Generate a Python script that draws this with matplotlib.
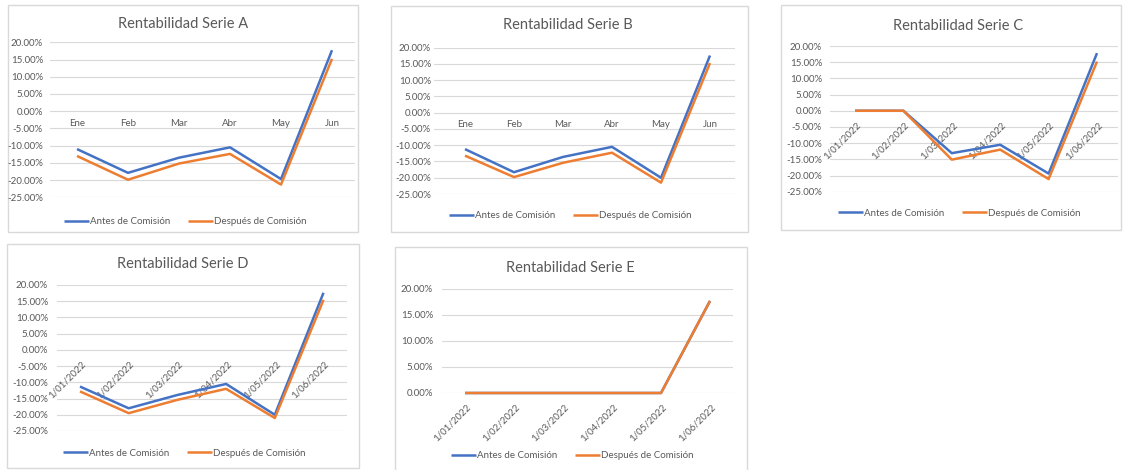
import matplotlib
matplotlib.use('Agg')
import matplotlib.pyplot as plt
from matplotlib.patches import Rectangle
from matplotlib.transforms import offset_copy
from matplotlib.ticker import FuncFormatter

plt.rcParams['font.family'] = ['Lato', 'DejaVu Sans']

W, H = 1124, 470

# ---------------- data ----------------
months = ["Ene", "Feb", "Mar", "Abr", "May", "Jun"]
dates = ["1/01/2022", "1/02/2022", "1/03/2022", "1/04/2022", "1/05/2022", "1/06/2022"]
series_names = ["Antes de Comisión", "Después de Comisión"]

a_antes = [-11.0, -17.9, -13.5, -10.5, -19.7, 17.7]
a_desp = [-13.0, -19.9, -15.2, -12.4, -21.3, 15.2]

b_antes = [-11.2, -18.3, -13.6, -10.5, -20.0, 17.6]
b_desp = [-13.2, -19.8, -15.4, -12.3, -21.5, 15.3]

c_antes = [0.0, 0.0, -13.1, -10.5, -19.4, 17.8]
c_desp = [0.0, 0.0, -15.1, -12.0, -21.1, 15.2]

d_antes = [-11.3, -18.0, -13.9, -10.5, -20.0, 17.6]
d_desp = [-12.8, -19.5, -15.4, -12.0, -21.0, 15.4]

e_antes = [0.0, 0.0, 0.0, 0.0, 0.0, 17.7]
e_desp = [0.0, 0.0, 0.0, 0.0, 0.0, 17.7]

BLUE = '#4472C4'
ORANGE = '#ED7D31'
GRID = '#D9D9D9'
TXT = '#595959'

fig = plt.figure(figsize=(W / 100, H / 100), dpi=100)


def fx(x):
    return x / W


def fy(y):
    return 1 - y / H


panels = [
    dict(title='Rentabilidad Serie A', antes=a_antes, desp=a_desp, cats=months, rot=False,
         border=(8, 5, 358, 232), grid_x=(50, 355), y_top=42.3, y_bot=197.3, ylim=(-25, 20),
         c0=77, step=51, lab_right=43, title_xy=(183, 24), leg_xy=(185, 222)),
    dict(title='Rentabilidad Serie B', antes=b_antes, desp=b_desp, cats=months, rot=False,
         border=(391, 6, 748, 232), grid_x=(434, 735), y_top=47.7, y_bot=194, ylim=(-25, 20),
         c0=465, step=49, lab_right=431, title_xy=(568, 25), leg_xy=(570, 216)),
    dict(title='Rentabilidad Serie C', antes=c_antes, desp=c_desp, cats=dates, rot=True,
         border=(781, 5, 1121, 230), grid_x=(830, 1118), y_top=46, y_bot=191.7, ylim=(-25, 20),
         c0=855, step=48.4, lab_right=822, title_xy=(958, 26), leg_xy=(959, 213)),
    dict(title='Rentabilidad Serie D', antes=d_antes, desp=d_desp, cats=dates, rot=True,
         border=(7, 244, 359, 468), grid_x=(57, 347), y_top=285, y_bot=431, ylim=(-25, 20),
         c0=80, step=48.7, lab_right=48, title_xy=(183, 264), leg_xy=(184, 453)),
    dict(title='Rentabilidad Serie E', antes=e_antes, desp=e_desp, cats=dates, rot=True,
         border=(395, 247, 747, 480), grid_x=(442, 733), y_top=289, y_bot=393, ylim=(0, 20),
         c0=465, step=49, lab_right=433, title_xy=(570, 268), leg_xy=(572, 456)),
]

fmt = FuncFormatter(lambda v, _: f'{v:.2f}%')

for p in panels:
    bx0, by0, bx1, by1 = p['border']
    fig.patches.append(Rectangle((fx(bx0), fy(by1)), (bx1 - bx0) / W, (by1 - by0) / H,
                                 transform=fig.transFigure, fill=False,
                                 edgecolor=GRID, lw=1.0, zorder=-1))
    gx0, gx1 = p['grid_x']
    ax = fig.add_axes([fx(gx0), fy(p['y_bot']), (gx1 - gx0) / W, (p['y_bot'] - p['y_top']) / H])
    ax.set_facecolor('none')
    n = len(p['cats'])
    xs = list(range(n))
    ax.set_xlim((gx0 - p['c0']) / p['step'], (gx1 - p['c0']) / p['step'])
    ax.set_ylim(*p['ylim'])
    ax.set_yticks(list(range(p['ylim'][0], p['ylim'][1] + 1, 5)))
    ax.yaxis.set_major_formatter(fmt)
    ax.set_xticks([])
    pad_pts = (gx0 - p['lab_right']) * 72 / 100
    ax.tick_params(axis='y', length=0, pad=pad_pts, labelsize=7, labelcolor=TXT)
    for s in ax.spines.values():
        s.set_visible(False)
    ax.grid(axis='y', color=GRID, lw=0.8)
    ax.set_axisbelow(True)

    l1, = ax.plot(xs, p['antes'], color=BLUE, lw=1.8, zorder=3, solid_capstyle='butt',
                  label=series_names[0], clip_on=False)
    l2, = ax.plot(xs, p['desp'], color=ORANGE, lw=1.8, zorder=4, solid_capstyle='butt',
                  label=series_names[1], clip_on=False)

    if p['rot']:
        tr = offset_copy(ax.transData, fig=fig, x=4, y=-13, units='dots')
        for i, lab in enumerate(p['cats']):
            ax.text(i, 0, lab, transform=tr, rotation=45, rotation_mode='anchor',
                    ha='right', va='center', fontsize=7, color=TXT, zorder=1)
    else:
        tr = offset_copy(ax.transData, fig=fig, x=0, y=-12, units='dots')
        for i, lab in enumerate(p['cats']):
            ax.text(i, 0, lab, transform=tr, ha='center', va='center', fontsize=7,
                    color=TXT, zorder=1)

    fig.text(fx(p['title_xy'][0]), fy(p['title_xy'][1]), p['title'], ha='center', va='center',
             fontsize=10.5, color=TXT)

    lx, ly = p['leg_xy']
    ax.legend(handles=[l1, l2], loc='center', bbox_to_anchor=(fx(lx), fy(ly)),
              bbox_transform=fig.transFigure, ncol=2, frameon=False, fontsize=7,
              handlelength=2.6, handletextpad=0.1, columnspacing=1.8, borderpad=0,
              labelcolor=TXT)

fig.savefig('out.png', dpi=100, facecolor='white')
